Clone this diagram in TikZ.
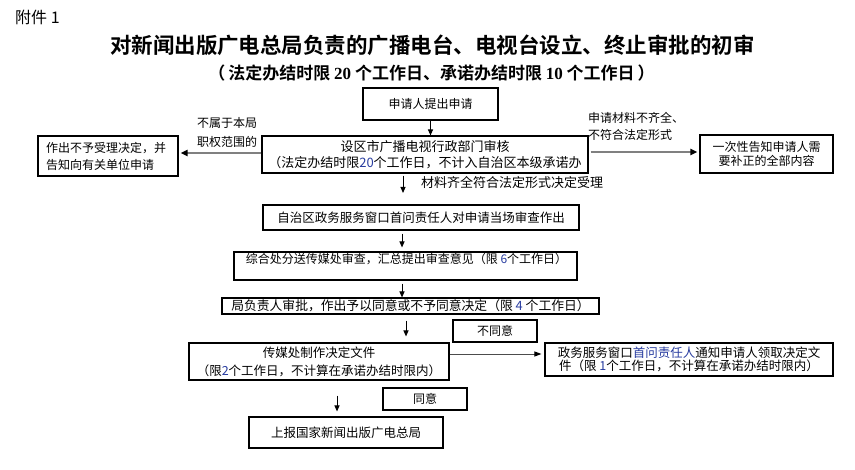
\documentclass[tikz,border=0pt]{standalone}
\usepackage{fontspec}
\setmainfont{Noto Sans CJK SC}
\newfontfamily\titlefont{Noto Sans CJK SC}[BoldFont={Noto Sans CJK SC Bold}]
\newfontfamily\serifdigits{Liberation Serif}
\usetikzlibrary{arrows.meta,positioning}
\definecolor{digblue}{RGB}{40,60,160}
\definecolor{arrgray}{RGB}{128,128,128}
\newcommand{\dg}[1]{\textcolor{digblue}{#1}}
\tikzset{
  box/.style={draw=black, line width=1.1pt, inner sep=0pt, align=center},
  fs/.style={font=\fontsize{#1}{17}\selectfont},
  lbl/.style={inner sep=0pt, align=left},
  arr/.style={draw=black, line width=1pt, -{Triangle[length=6pt,width=5pt]}},
  garr/.style={draw=arrgray, line width=2pt, -{Triangle[length=7pt,width=6pt,color=black]}},
  tarr/.style={draw=black!70, line width=0.9pt, -{Triangle[length=7pt,width=5pt,color=black]}},
}
\begin{document}
\begin{tikzpicture}[x=1pt,y=-1pt]
\useasboundingbox[fill=white] (0,0) rectangle (855,470);

% header
\node[lbl, anchor=west, fs=16] (fj) at (15,17) {附件 1};
\node[inner sep=0pt, font=\titlefont\bfseries\fontsize{21.5}{24}\selectfont] (title) at (432.5,45) {对新闻出版广电总局负责的广播电台、电视台设立、终止审批的初审};
\node[inner sep=0pt, font=\titlefont\bfseries\fontsize{17}{19}\selectfont] (sub) at (431.5,73) {（\,法定办结时限 {\serifdigits\bfseries 20} 个工作日、承诺办结时限 {\serifdigits\bfseries 10} 个工作日\,）};

% boxes
\node[box, fs=12, minimum width=135pt, minimum height=32pt] (b1) at (430.5,104) {申请人提出申请};
\node[box, font=\fontsize{13}{16.5}\selectfont, minimum width=326pt, minimum height=37pt] (b2) at (425,154.5) {设区市广播电视行政部门审核\\（法定办结时限\dg{20}个工作日，不计入自治区本级承诺办};
\node[box, fs=12, align=left, minimum width=140pt, minimum height=40pt, text width=124pt] (b3) at (108,156) {作出不予受理决定，并\\告知向有关单位申请};
\node[box, font=\fontsize{12}{14}\selectfont, minimum width=133pt, minimum height=38pt] (b4) at (766.5,154) {一次性告知申请人需\\要补正的全部内容};
\node[box, font=\fontsize{12.5}{15}\selectfont, minimum width=316pt, minimum height=25pt] (b5) at (421,217.5) {自治区政务服务窗口首问责任人对申请当场审查作出};
\node[box, minimum width=343pt, minimum height=28pt] (b6) at (405.5,266) {};
\node[inner sep=0pt, fs=12, anchor=center] (b6t) at (406.5,259) {综合处分送传媒处审查，汇总提出审查意见（限 \dg{6}个工作日）};
\node[box, font=\fontsize{12.8}{14}\selectfont, minimum width=377pt, minimum height=16pt] (b7) at (410.5,306) {局负责人审批，作出予以同意或不予同意决定（限 \dg{4} 个工作日）};
\node[box, fs=12, minimum width=84pt, minimum height=22pt] (b8) at (495,331) {不同意};
\node[box, font=\fontsize{12.5}{18}\selectfont, minimum width=260pt, minimum height=37pt] (b9) at (319,361.5) {传媒处制作决定文件\\（限\dg{2}个工作日，不计算在承诺办结时限内）};
\node[box, font=\fontsize{12.5}{12.5}\selectfont, minimum width=288pt, minimum height=33pt] (b10) at (689,359.5) {政务服务窗口\textcolor{digblue}{首问责任人}通知申请人领取决定文\\件（限 \dg{1}个工作日，不计算在承诺办结时限内）};
\node[box, fs=12, minimum width=84pt, minimum height=22pt] (b11) at (425,399) {同意};
\node[box, font=\fontsize{12.5}{15}\selectfont, minimum width=194pt, minimum height=31pt] (b12) at (346,432.5) {上报国家新闻出版广电总局};

% labels
\node[inner sep=0pt, align=center, font=\fontsize{12}{19}\selectfont] (l1) at (227,132.5) {不属于本局\\职权范围的};
\node[lbl, anchor=west, font=\fontsize{12}{17}\selectfont] (l2) at (588,126.5) {申请材料不齐全、\\不符合法定形式};
\node[lbl, anchor=west, fs=13] (l3) at (421,182.5) {材料齐全符合法定形式决定受理};

% coordinates
\coordinate (c1) at (403,193);
\coordinate (x1) at (402,0);
\coordinate (x2) at (406,0);
\coordinate (x3) at (337,0);
\coordinate (y1) at (0,153);
\coordinate (y2) at (0,152);
\coordinate (y3) at (0,354);

% connectors
\draw[arr] (b1.south) -- (b1.south |- b2.north);
\draw[arr, shorten <=2pt] (b2.south -| c1) -- (c1);
\draw[garr, shorten >=2pt] (b2.west |- y1) -- (b3.east |- y1);
\draw[garr, shorten <=2pt, shorten >=2pt] (b2.east |- y2) -- (b4.west |- y2);
\draw[arr, shorten <=3pt, shorten >=4pt] (b5.south -| x1) -- (b6.north -| x1);
\draw[arr, shorten <=3pt] (b6.south -| x1) -- (b7.north -| x1);
\draw[arr, shorten <=6pt, shorten >=6pt] (b7.south -| x2) -- (b9.north -| x2);
\draw[tarr, shorten >=3pt] (b9.east |- y3) -- (b10.west |- y3);
\draw[arr, shorten <=15pt, shorten >=5pt] (b9.south -| x3) -- (b12.north -| x3);
\end{tikzpicture}
\end{document}
